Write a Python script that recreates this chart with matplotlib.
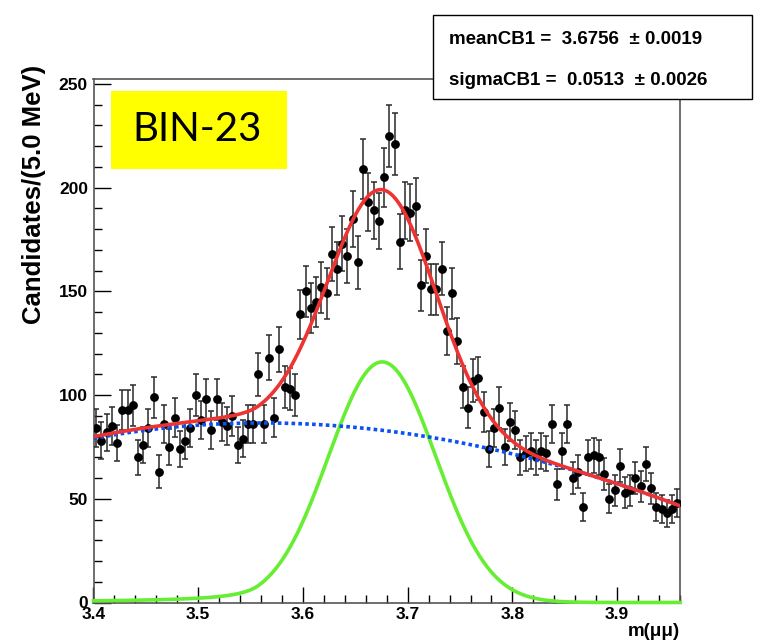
import numpy as np
import matplotlib
matplotlib.use("Agg")
import matplotlib.pyplot as plt
from matplotlib.patches import Rectangle
from matplotlib.ticker import MultipleLocator

# ---------------- data ----------------
x_start = 3.40
bin_width = 0.005
counts = [84, 78, 82, 85, 77, 93, 93, 95, 70, 76,
          84, 99, 63, 86, 75, 89, 74, 78, 84, 100,
          88, 98, 83, 98, 87, 85, 90, 76, 79, 86,
          86, 110, 86, 118, 89, 122, 104, 103, 100, 139,
          150, 142, 145, 152, 149, 168, 161, 173, 167, 185,
          164, 209, 193, 189, 184, 205, 225, 221, 174, 189,
          188, 191, 153, 167, 151, 151, 161, 131, 149, 126,
          104, 94, 107, 108, 92, 74, 84, 94, 75, 87,
          83, 70, 72, 73, 70, 73, 72, 86, 57, 73,
          86, 60, 63, 46, 70, 71, 70, 62, 50, 54,
          66, 53, 54, 60, 56, 67, 55, 46, 45, 43,
          45, 48]

# fit results shown in the box
mean_cb1 = 3.6756
mean_cb1_err = 0.0019
sigma_cb1 = 0.0513
sigma_cb1_err = 0.0026
signal_peak = 116.0
cb_alpha = 2.3
cb_n = 1.2

# background curve, values read at a few masses
bkg_x = [3.40, 3.48, 3.56, 3.65, 3.71, 3.75, 3.80, 3.85, 3.90, 3.958]
bkg_y = [79.5, 84.0, 86.5, 84.5, 81.0, 78.0, 71.5, 64.0, 57.0, 47.5]

x_ticks = [3.4, 3.5, 3.6, 3.7, 3.8, 3.9]
y_ticks = [0, 50, 100, 150, 200, 250]

# ---------------- figure ----------------
W, H = 770, 641
fig = plt.figure(figsize=(W / 100, H / 100), dpi=100)
fig.patch.set_facecolor("white")
font = "Liberation Sans"

ax = fig.add_axes([93.5 / W, 1 - 602.5 / H, (680 - 93.5) / W, (602.5 - 79) / H])
ax.set_xlim(3.40, 3.96)
ax.set_ylim(0, 252.4)

counts_arr = np.array(counts, dtype=float)
xc = x_start + bin_width * (np.arange(len(counts_arr)) + 0.5)
ax.errorbar(xc, counts_arr, yerr=np.sqrt(counts_arr), fmt="o", color="black",
            ms=5.3, ecolor="#2a2a2a", elinewidth=1.1, capsize=2, capthick=1.1,
            zorder=3)

# model curves
xx = np.linspace(3.40, 3.96, 800)


def crystal_ball(x, m, s, a, n):
    z = (x - m) / s
    out = np.exp(-0.5 * z ** 2)
    A = (n / a) ** n * np.exp(-0.5 * a ** 2)
    B = n / a - a
    mask = z < -a
    out[mask] = A * (B - z[mask]) ** (-n)
    return out


sig = signal_peak * crystal_ball(xx, mean_cb1, sigma_cb1, cb_alpha, cb_n)
bkg = np.polyval(np.polyfit(bkg_x, bkg_y, 3), xx)
tot = sig + bkg

ax.plot(xx, sig, color="#66ee33", lw=2.6, zorder=4, clip_on=False)
ax.plot(xx, bkg, color="#0a50f5", lw=2.6, ls=(0, (1.0, 0.9)), zorder=5)
ax.plot(xx, tot, color="#ee3333", lw=2.6, zorder=6)

# axes styling (ROOT-like)
ax.xaxis.set_major_locator(MultipleLocator(0.1))
ax.xaxis.set_minor_locator(MultipleLocator(0.02))
ax.yaxis.set_major_locator(MultipleLocator(50))
ax.yaxis.set_minor_locator(MultipleLocator(10))
ax.set_xticks(x_ticks)
ax.set_xticklabels([f"{v:.1f}" for v in x_ticks])
ax.set_yticks(y_ticks)
ax.set_yticklabels([str(v) for v in y_ticks])
ax.tick_params(axis="both", which="both", direction="in", top=False, right=False,
               color="black", width=1.0)
ax.tick_params(axis="x", which="major", length=11.3, pad=3)
ax.tick_params(axis="x", which="minor", length=5.8)
ax.tick_params(axis="y", which="major", length=12, pad=4)
ax.tick_params(axis="y", which="minor", length=5.8)
for lab in ax.get_xticklabels() + ax.get_yticklabels():
    lab.set_fontfamily(font)
    lab.set_fontweight("bold")
    lab.set_fontsize(12.5)
for sp in ax.spines.values():
    sp.set_color("#555555")
    sp.set_linewidth(1.2)

# axis titles
fig.text(34 / W, 1 - 194 / H, "Candidates/(5.0 MeV)", rotation=90, ha="center",
         va="center", fontsize=18.5, fontweight="bold", family=font)
fig.text(680 / W, 1 - 632 / H, "m(μμ)", ha="right", va="center", fontsize=13.5,
         fontweight="bold", family=font)

# parameter box
fig.patches.append(Rectangle((433 / W, 1 - 99 / H), (752 - 433) / W, (99 - 15) / H,
                             transform=fig.transFigure, facecolor="white",
                             edgecolor="black", lw=1.0, zorder=10))
fig.text(449 / W, 1 - 44 / H,
         f"meanCB1 =  {mean_cb1:.4f}  ± {mean_cb1_err:.4f}",
         ha="left", va="baseline", fontsize=13.5, fontweight="bold", family=font,
         zorder=11)
fig.text(449 / W, 1 - 85 / H,
         f"sigmaCB1 =  {sigma_cb1:.4f}  ± {sigma_cb1_err:.4f}",
         ha="left", va="baseline", fontsize=13.5, fontweight="bold", family=font,
         zorder=11)

# yellow label
fig.patches.append(Rectangle((111 / W, 1 - 169 / H), (287 - 111) / W, (169 - 91) / H,
                             transform=fig.transFigure, facecolor="#ffff00",
                             edgecolor="none", zorder=8))
fig.text(197 / W, 1 - 130 / H, "BIN-23", ha="center", va="center", fontsize=29,
         family="Lato", color="black", zorder=9)

fig.savefig("out.png", dpi=100)
